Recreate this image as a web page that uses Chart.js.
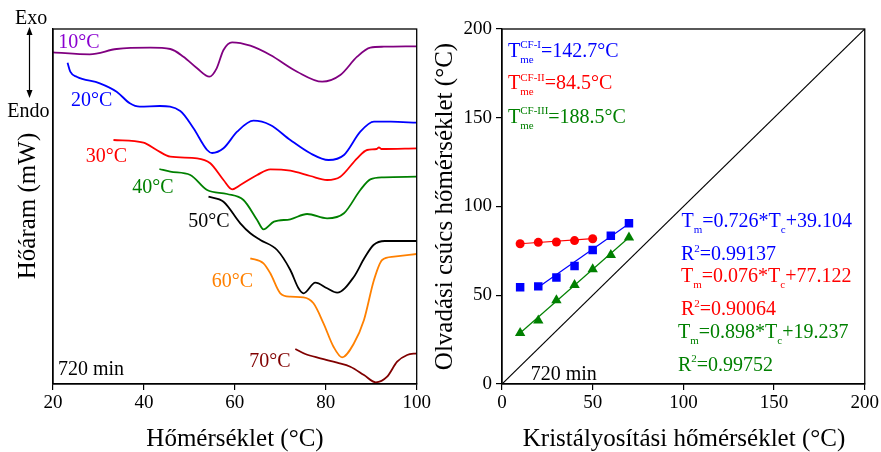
<!DOCTYPE html>
<html>
<head>
<meta charset="utf-8">
<script src="https://cdn.jsdelivr.net/npm/chart.js@4.4.0/dist/chart.umd.min.js"></script>
<style>
  body { margin: 0; background: #fff; }
  #wrap { position: relative; width: 881px; height: 452px; overflow: hidden; background: #fff; }
  canvas { position: absolute; top: 0; }
</style>
</head>
<body>
<div id="wrap">
  <canvas id="dsc" width="460" height="452" style="left:0"></canvas>
  <canvas id="tm" width="456" height="452" style="left:425px"></canvas>
</div>
<script>
// ---- donnees DSC (gauche) : temperature (°C) / flux de chaleur (u.a.)
const t10 = [20, 28.1, 34, 41.4, 45.8, 48.7, 51.7, 54.4, 56, 57.5, 59.4, 63.4, 67.8, 73.7, 79.2, 83.2, 86.9, 89.8, 92.8, 100];
const h10 = [3.317, 3.297, 3.35, 3.363, 3.35, 3.273, 3.157, 3.073, 3.157, 3.34, 3.417, 3.383, 3.29, 3.123, 3.023, 3.09, 3.273, 3.363, 3.373, 3.377];
const t20 = [23.2, 23.8, 25.2, 30.3, 34, 36.9, 39.1, 43.5, 48, 50.9, 53.9, 55, 57.5, 60.5, 64.1, 67.8, 72.2, 76.6, 80.6, 84, 87.6, 90.6, 94.3, 100];
const h20 = [3.213, 3.123, 3.073, 3.007, 2.923, 2.807, 2.773, 2.78, 2.73, 2.557, 2.34, 2.31, 2.357, 2.523, 2.633, 2.59, 2.44, 2.307, 2.24, 2.29, 2.523, 2.623, 2.623, 2.613];
const t30 = [33.3, 39.9, 42.8, 45.8, 51.7, 54.6, 57.5, 59.4, 61.2, 64.9, 67.8, 72.2, 76.6, 80.3, 83.2, 86.9, 89.1, 91.2, 91.7, 92.2, 100];
const h30 = [2.44, 2.413, 2.34, 2.273, 2.257, 2.207, 2.04, 1.947, 1.99, 2.09, 2.147, 2.133, 2.08, 2.04, 2.073, 2.257, 2.34, 2.35, 2.367, 2.35, 2.357];
const t40 = [43.4, 45.8, 50.2, 53.9, 58.3, 61.9, 64.9, 66.3, 68.6, 72.2, 75.9, 80.3, 84, 87.6, 89.8, 92.8, 100];
const h40 = [2.15, 2.123, 2.09, 1.94, 1.9, 1.84, 1.64, 1.547, 1.623, 1.647, 1.7, 1.657, 1.707, 1.94, 2.047, 2.067, 2.073];
const t50 = [54.2, 57.5, 61.2, 63.4, 65.6, 69.3, 72.2, 74, 75.1, 77.7, 80.3, 82.5, 86.2, 88.5, 90.5, 93, 100];
const h50 = [1.873, 1.823, 1.607, 1.507, 1.44, 1.34, 1.14, 0.957, 0.907, 1.013, 0.957, 0.913, 1.073, 1.26, 1.39, 1.43, 1.43];
const t60 = [63.4, 66.3, 67.8, 70, 72.2, 75.1, 77.3, 79.5, 81.7, 83.6, 86.2, 88.4, 90.6, 92.4, 95, 100];
const h60 = [1.257, 1.207, 1.107, 0.907, 0.873, 0.867, 0.807, 0.607, 0.373, 0.267, 0.407, 0.64, 1.04, 1.24, 1.273, 1.3];
const t70 = [73.3, 75.5, 78.8, 82.5, 85.4, 88.4, 91, 93.5, 95.7, 97.9, 100];
const h70 = [0.35, 0.3, 0.257, 0.213, 0.173, 0.09, 0.017, 0.073, 0.223, 0.29, 0.307];
const curveLabels = ["10°C", "20°C", "30°C", "40°C", "50°C", "60°C", "70°C"];
const dscTicks = [20, 40, 60, 80, 100];

// ---- donnees Tm = f(Tc) (droite)
const tcAll = [10, 20, 30, 40, 50, 60, 70];
const tmBlue = [54.5, 55, 60, 66.5, 75.5, 83.5, 90.5];
const tcRed = [10, 20, 30, 40, 50];
const tmRed = [79, 79.8, 80, 80.8, 81.8];
const tmGreen = [28.7, 35.8, 47.2, 55.8, 64.7, 72.7, 82.5];
const blueFitX = [20, 70];
const blueFitY = [54.5, 90.3];
const redFitX = [10, 50];
const redFitY = [79, 81.9];
const greenFitX = [10, 70];
const greenFitY = [28.7, 82.5];
const diagX = [0, 200];
const diagY = [0, 200];
const tmTicks = [0, 50, 100, 150, 200];

const FONT = '"Liberation Serif", "Times New Roman", serif';

function pts(xs, ys) {
  return xs.map((x, i) => ({ x: x, y: ys[i] }));
}

// texte avec indices / exposants
function drawRich(ctx, x, y, parts, color, size) {
  ctx.save();
  ctx.fillStyle = color;
  ctx.textBaseline = "alphabetic";
  ctx.textAlign = "left";
  let cx = x;
  for (const p of parts) {
    if (typeof p === "string") {
      ctx.font = size + "px " + FONT;
      ctx.fillText(p, cx, y);
      cx += ctx.measureText(p).width;
    } else {
      ctx.font = Math.round(size * 0.55) + "px " + FONT;
      let w = 0;
      if (p.sup) {
        ctx.fillText(p.sup, cx, y - size * 0.42);
        w = Math.max(w, ctx.measureText(p.sup).width);
      }
      if (p.sub) {
        ctx.fillText(p.sub, cx, y + size * 0.3);
        w = Math.max(w, ctx.measureText(p.sub).width);
      }
      cx += w;
    }
  }
  ctx.restore();
}

function rotatedText(ctx, text, x, y, size) {
  ctx.save();
  ctx.translate(x, y);
  ctx.rotate(-Math.PI / 2);
  ctx.font = size + "px " + FONT;
  ctx.fillStyle = "#000";
  ctx.textAlign = "center";
  ctx.textBaseline = "alphabetic";
  ctx.fillText(text, 0, 0);
  ctx.restore();
}

const framePlugin = {
  id: "frame",
  afterDraw(chart) {
    const a = chart.chartArea;
    const ctx = chart.ctx;
    ctx.save();
    ctx.strokeStyle = "#000";
    ctx.lineWidth = 1.3;
    ctx.strokeRect(a.left, a.top, a.right - a.left, a.bottom - a.top);
    ctx.restore();
  }
};

function axisOpts(min, max, ticks, showLabels, fitSize, isX) {
  return {
    type: "linear",
    min: min,
    max: max,
    afterBuildTicks: (s) => { s.ticks = ticks.map(v => ({ value: v })); },
    afterFit: (s) => { if (isX) s.height = fitSize; else s.width = fitSize; },
    grid: {
      display: showLabels,
      drawOnChartArea: false,
      drawTicks: true,
      tickLength: 6,
      tickColor: "#000",
      lineWidth: 1.2
    },
    border: { display: true, color: "#000", width: 1.3 },
    ticks: {
      display: showLabels,
      color: "#000",
      padding: isX ? 2 : 4,
      font: { family: FONT, size: 19 }
    }
  };
}

// ---------- graphique de gauche : courbes DSC
const dscColors = ["#800080", "#0000ff", "#ff0000", "#008000", "#000000", "#ff8000", "#800000"];
const labelColors = ["#8a00d0", "#0000ff", "#ff0000", "#008000", "#000000", "#ff8000", "#800000"];
const dscSeries = [[t10, h10], [t20, h20], [t30, h30], [t40, h40], [t50, h50], [t60, h60], [t70, h70]];

const dscText = {
  id: "dscText",
  afterDraw(chart) {
    const ctx = chart.ctx;
    const labelPos = [[58.3, 48.3], [71, 106], [85.7, 162.3], [132.3, 193.3], [188.3, 227.3], [211.7, 287.3], [249.3, 367.3]];
    curveLabels.forEach((l, i) => drawRich(ctx, labelPos[i][0], labelPos[i][1], [l], labelColors[i], 20));
    drawRich(ctx, 58, 375, ["720 min"], "#000", 20);
    drawRich(ctx, 15, 24, ["Exo"], "#000", 20);
    drawRich(ctx, 7.3, 116.7, ["Endo"], "#000", 20);
    // fleche Exo / Endo
    ctx.save();
    ctx.strokeStyle = "#000";
    ctx.fillStyle = "#000";
    ctx.lineWidth = 1.2;
    ctx.beginPath();
    ctx.moveTo(29.5, 32);
    ctx.lineTo(29.5, 93);
    ctx.stroke();
    ctx.beginPath();
    ctx.moveTo(29.5, 27); ctx.lineTo(26.5, 35); ctx.lineTo(32.5, 35); ctx.closePath();
    ctx.moveTo(29.5, 98); ctx.lineTo(26.5, 90); ctx.lineTo(32.5, 90); ctx.closePath();
    ctx.fill();
    ctx.restore();
    ctx.save();
    ctx.font = "25px " + FONT;
    ctx.fillStyle = "#000";
    ctx.textAlign = "center";
    ctx.fillText("Hőmérséklet (°C)", 235, 446);
    ctx.restore();
    rotatedText(ctx, "Hőáram (mW)", 35, 206, 25);
  }
};

new Chart(document.getElementById("dsc"), {
  type: "scatter",
  data: {
    datasets: dscSeries.map((s, i) => ({
      data: pts(s[0], s[1]),
      showLine: true,
      borderColor: dscColors[i],
      borderWidth: 1.8,
      pointRadius: 0,
      cubicInterpolationMode: "monotone"
    }))
  },
  options: {
    responsive: false,
    animation: false,
    devicePixelRatio: 1,
    layout: { padding: { left: 0, top: 29, right: 43.3, bottom: 0 } },
    plugins: { legend: { display: false }, tooltip: { enabled: false } },
    scales: {
      x: axisOpts(20, 100, dscTicks, true, 68, true),
      y: axisOpts(0, 3.55, [], false, 53, false)
    }
  },
  plugins: [framePlugin, dscText]
});

// ---------- graphique de droite : Tm en fonction de Tc
const tmText = {
  id: "tmText",
  afterDraw(chart) {
    const ctx = chart.ctx;
    const ox = 425;
    drawRich(ctx, 508 - ox, 56.7, ["T", { sup: "CF-I", sub: "me" }, "=142.7°C"], "#0000ff", 20);
    drawRich(ctx, 508 - ox, 89.3, ["T", { sup: "CF-II", sub: "me" }, "=84.5°C"], "#ff0000", 20);
    drawRich(ctx, 508 - ox, 122.7, ["T", { sup: "CF-III", sub: "me" }, "=188.5°C"], "#008000", 20);
    drawRich(ctx, 681.5 - ox, 226.7, ["T", { sub: "m" }, "=0.726*T", { sub: "c" }, "+39.104"], "#0000ff", 20);
    drawRich(ctx, 681 - ox, 260, ["R", { sup: "2" }, "=0.99137"], "#0000ff", 20);
    drawRich(ctx, 681 - ox, 281.7, ["T", { sub: "m" }, "=0.076*T", { sub: "c" }, "+77.122"], "#ff0000", 20);
    drawRich(ctx, 681 - ox, 315, ["R", { sup: "2" }, "=0.90064"], "#ff0000", 20);
    drawRich(ctx, 678 - ox, 338, ["T", { sub: "m" }, "=0.898*T", { sub: "c" }, "+19.237"], "#008000", 20);
    drawRich(ctx, 678 - ox, 370.7, ["R", { sup: "2" }, "=0.99752"], "#008000", 20);
    drawRich(ctx, 530.7 - ox, 380, ["720 min"], "#000", 20);
    ctx.save();
    ctx.font = "25px " + FONT;
    ctx.fillStyle = "#000";
    ctx.textAlign = "center";
    ctx.fillText("Kristályosítási hőmérséklet (°C)", 684 - ox, 446);
    ctx.restore();
    rotatedText(ctx, "Olvadási csúcs hőmérséklet (°C)", 452 - ox, 206.5, 25);
  }
};

function fitLine(xs, ys, color) {
  return { data: pts(xs, ys), showLine: true, borderColor: color, borderWidth: 1.2, pointRadius: 0 };
}
function markers(xs, ys, color, style, r) {
  return {
    data: pts(xs, ys), showLine: false, pointStyle: style, pointRadius: r,
    backgroundColor: color, borderColor: color, borderWidth: 0
  };
}

new Chart(document.getElementById("tm"), {
  type: "scatter",
  data: {
    datasets: [
      fitLine(diagX, diagY, "#000"),
      fitLine(blueFitX, blueFitY, "#0000ff"),
      fitLine(redFitX, redFitY, "#ff0000"),
      fitLine(greenFitX, greenFitY, "#008000"),
      markers(tcAll, tmBlue, "#0000ff", "rect", 6),
      markers(tcRed, tmRed, "#ff0000", "circle", 4.5),
      markers(tcAll, tmGreen, "#008000", "triangle", 6)
    ]
  },
  options: {
    responsive: false,
    animation: false,
    devicePixelRatio: 1,
    layout: { padding: { left: 0, top: 29, right: 15, bottom: 0 } },
    plugins: { legend: { display: false }, tooltip: { enabled: false } },
    scales: {
      x: axisOpts(0, 200, tmTicks, true, 68, true),
      y: axisOpts(0, 200, tmTicks, true, 77, false)
    }
  },
  plugins: [framePlugin, tmText]
});
</script>
</body>
</html>
